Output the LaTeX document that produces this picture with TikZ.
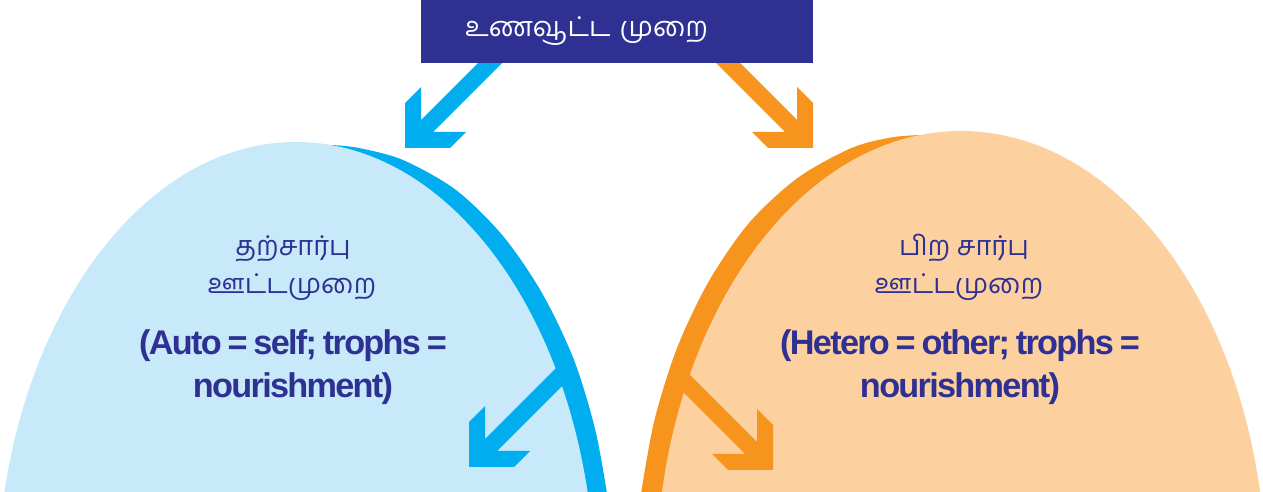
\documentclass[tikz,border=0pt]{standalone}
\usepackage{fontspec}
\newfontfamily\tamilfont[Script=Tamil]{Hind Madurai}
\newfontfamily\glossfont[LetterSpace=-5, WordSpace=0.75]{Liberation Sans}

\definecolor{navy}{HTML}{2E3192}
\definecolor{autoband}{HTML}{00AEEF}
\definecolor{autofill}{HTML}{C7E9F9}
\definecolor{heteroband}{HTML}{F7941D}
\definecolor{heterofill}{HTML}{FDD09F}

\begin{document}
\begin{tikzpicture}[x=0.02cm, y=-0.02cm,
	tamil/.style={text=navy, font=\tamilfont\fontsize{15.5}{18}\selectfont, anchor=base, inner sep=0pt},
	gloss/.style={text=navy, font=\glossfont\bfseries\fontsize{19.5}{23}\selectfont, anchor=base, inner sep=0pt},
	titlebox/.style={fill=navy, text=white, font=\tamilfont\fontsize{15.5}{18}\selectfont,
		minimum width=7.84cm, minimum height=1.26cm, text width=6.08cm, inner xsep=0.88cm, inner ysep=0pt, align=left},
	pics/blockarrow/.style={code={
		\fill (0,0) -- (45,0) -- (61,-16) -- (28,-16) -- ({#1+6},{-#1+6}) -- ({#1-6},{-#1-6})
			-- (16,-28) -- (16,-61) -- (0,-45) -- cycle;
	}}]
	
	\useasboundingbox (0,0) rectangle (1263,492);
	\clip (0,0) rectangle (1263,492);
	
	% autotrophic dome
	\fill [autoband] plot [smooth] coordinates {(332,145) (359,148) (403,160) (456,190) (503,236) (542,293) (574,360) (596,433) (610,512)} -- (450,512) -- cycle;
	\fill [autofill] (296,592) ellipse [x radius=299, y radius=450];
	
	% heterotrophic dome
	\fill [heteroband] plot [smooth] coordinates {(920,135) (891,137.5) (851.5,148) (797.5,178) (749,223) (709,281) (677,348) (654,422) (640,500)} -- (800,500) -- cycle;
	\fill [heterofill] (961,581) ellipse [x radius=305, y radius=450];
	
	% block arrows
	\pic [fill=autoband] at (405,148) {blockarrow=100};
	\pic [fill=heteroband, xscale=-1] at (813,148) {blockarrow=100};
	\pic [fill=autoband] at (469,467) {blockarrow=95};
	\pic [fill=heteroband, xscale=-1] at (773,470) {blockarrow=92};
	
	\node [titlebox] (title) at (617,31.5) {உணவூட்ட முறை};
	
	\node [tamil] (autoname) at (293,256) {தற்சார்பு};
	\node [tamil] (autoword) at (292,294) {ஊட்டமுறை};
	\node [gloss] (autogloss) at (293,355) {(Auto = self; trophs =};
	\node [gloss] (autorest) at (293,398) {nourishment)};
	
	\node [tamil] (heteroname) at (964,256) {பிற சார்பு};
	\node [tamil] (heteroword) at (959,294) {ஊட்டமுறை};
	\node [gloss] (heterogloss) at (960,355) {(Hetero = other; trophs =};
	\node [gloss] (heterorest) at (960,398) {nourishment)};
	
\end{tikzpicture}
\end{document}
